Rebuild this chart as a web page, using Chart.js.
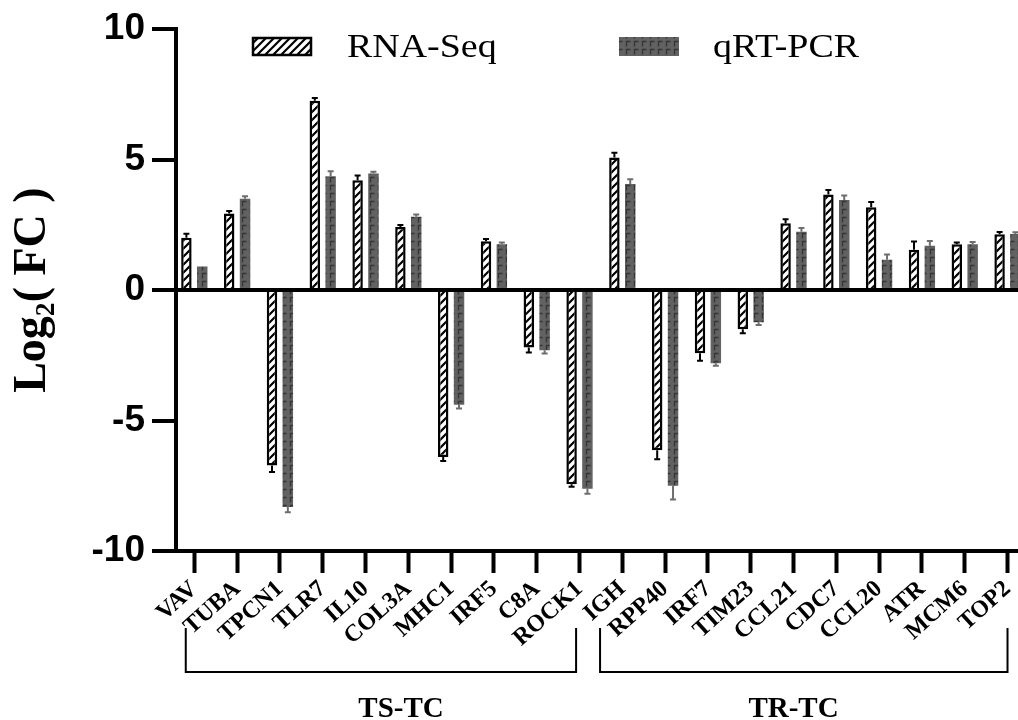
<!DOCTYPE html>
<html lang="en">
<head>
<meta charset="UTF-8">
<title>RNA-Seq vs qRT-PCR</title>
<script src="https://cdn.jsdelivr.net/npm/chart.js"></script>
<style>
  body { margin: 0; background: #fff; overflow: hidden; }
</style>
</head>
<body>
<canvas id="myChart" width="1018" height="720"></canvas>
<script>
// data
const genes = ['VAV', 'TUBA', 'TPCN1', 'TLR7', 'IL10', 'COL3A', 'MHC1', 'IRF5', 'C8A', 'ROCK1',
               'IGH', 'RPP40', 'IRF7', 'TIM23', 'CCL21', 'CDC7', 'CCL20', 'ATR', 'MCM6', 'TOP2'];
const rnaSeq    = [2.01, 2.94, -6.72, 7.26, 4.21, 2.42, -6.40, 1.87, -2.20, -7.44,
                   5.08, -6.14, -2.42, -1.50, 2.56, 3.66, 3.18, 1.55, 1.76, 2.14];
const rnaSeqErr = [0.15, 0.09, 0.25, 0.10, 0.18, 0.08, 0.15, 0.09, 0.19, 0.10,
                   0.18, 0.34, 0.29, 0.15, 0.16, 0.18, 0.20, 0.31, 0.06, 0.09];
const qpcr      = [0.90, 3.50, -8.31, 4.36, 4.47, 2.81, -4.39, 1.76, -2.31, -7.61,
                   4.07, -7.50, -2.80, -1.23, 2.24, 3.45, 1.16, 1.70, 1.76, 2.15];
const qpcrErr   = [0, 0.10, 0.20, 0.20, 0.07, 0.09, 0.15, 0.06, 0.12, 0.20,
                   0.18, 0.53, 0.10, 0.11, 0.14, 0.18, 0.20, 0.18, 0.08, 0.07];
const yTicks = [-10, -5, 0, 5, 10];
const groups = [
    { label: 'TS-TC', first: 0, last: 9 },
    { label: 'TR-TC', first: 10, last: 19 }
];

// bracket ends and label centre, in category units (layout only)
const bracketLayout = [
    { from: -0.2, to: 8.92, labelAt: 4.83 },
    { from: 9.48, to: 19.0, labelAt: 14.0 }
];

// hatched fill for RNA-Seq
function hatchPattern() {
    const c = document.createElement('canvas');
    c.width = 8; c.height = 8;
    const g = c.getContext('2d');
    g.fillStyle = '#fff';
    g.fillRect(0, 0, 8, 8);
    g.strokeStyle = '#000';
    g.lineWidth = 2.2;
    g.beginPath();
    g.moveTo(-2, 10); g.lineTo(10, -2);
    g.moveTo(-2, 2); g.lineTo(2, -2);
    g.moveTo(6, 10); g.lineTo(10, 6);
    g.stroke();
    return g.createPattern(c, 'repeat');
}

// grey fill with small dark corner marks for qRT-PCR
function greyPattern() {
    const c = document.createElement('canvas');
    c.width = 8; c.height = 8;
    const g = c.getContext('2d');
    g.fillStyle = '#626262';
    g.fillRect(0, 0, 8, 8);
    g.strokeStyle = '#353535';
    g.lineWidth = 1.4;
    g.beginPath();
    g.moveTo(2.5, 6.5); g.lineTo(2.5, 1.5); g.lineTo(6.5, 1.5);
    g.stroke();
    return g.createPattern(c, 'repeat');
}

const errorBars = {
    id: 'errorBars',
    afterDatasetsDraw(chart) {
        const ctx = chart.ctx;
        const yScale = chart.scales.y;
        chart.data.datasets.forEach((ds, di) => {
            const meta = chart.getDatasetMeta(di);
            ctx.save();
            ctx.strokeStyle = ds.errorColor;
            ctx.lineWidth = 2;
            meta.data.forEach((bar, i) => {
                const v = ds.data[i].y;
                const e = ds.errors[i];
                if (!e) return;
                const end = yScale.getPixelForValue(v + Math.sign(v) * e);
                ctx.beginPath();
                ctx.moveTo(bar.x, bar.y);
                ctx.lineTo(bar.x, end);
                ctx.moveTo(bar.x - 3, end);
                ctx.lineTo(bar.x + 3, end);
                ctx.stroke();
            });
            ctx.restore();
        });
    }
};

const extras = {
    id: 'extras',
    afterDraw(chart) {
        const ctx = chart.ctx;
        const xScale = chart.scales.x;

        // legend inside the plot
        const items = [{ box: 252, text: 347 }, { box: 619, text: 713 }];
        chart.data.datasets.forEach((ds, i) => {
            const it = items[i];
            ctx.save();
            ctx.fillStyle = ds.backgroundColor;
            ctx.fillRect(it.box, 37, 60, 19);
            if (ds.borderWidth) {
                ctx.lineWidth = 2.5;
                ctx.strokeStyle = '#000';
                ctx.strokeRect(it.box + 1, 38, 58, 17);
            }
            ctx.fillStyle = '#000';
            ctx.font = '33px "Liberation Serif"';
            ctx.textBaseline = 'alphabetic';
            ctx.translate(it.text, 57);
            ctx.scale(1.15, 1);
            ctx.fillText(ds.label, 0, 0);
            ctx.restore();
        });

        // group brackets
        ctx.save();
        ctx.strokeStyle = '#000';
        ctx.lineWidth = 2;
        ctx.fillStyle = '#000';
        ctx.font = 'bold 29px "Liberation Serif"';
        ctx.textAlign = 'center';
        groups.forEach((g, i) => {
            const b = bracketLayout[i];
            const x0 = xScale.getPixelForValue(b.from);
            const x1 = xScale.getPixelForValue(b.to);
            ctx.beginPath();
            ctx.moveTo(x0, 628);
            ctx.lineTo(x0, 672);
            ctx.lineTo(x1, 672);
            ctx.lineTo(x1, 628);
            ctx.stroke();
            ctx.fillText(g.label, xScale.getPixelForValue(b.labelAt), 717);
        });
        ctx.restore();
    }
};

const ctx = document.getElementById('myChart').getContext('2d');
const myChart = new Chart(ctx, {
    type: 'bar',
    data: {
        datasets: [{
            label: 'RNA-Seq',
            data: genes.map((g, i) => ({ x: i, y: rnaSeq[i] })),
            backgroundColor: hatchPattern(),
            borderColor: '#000',
            borderWidth: 2.5,
            errors: rnaSeqErr,
            errorColor: '#000'
        }, {
            label: 'qRT-PCR',
            data: genes.map((g, i) => ({ x: i, y: qpcr[i] })),
            backgroundColor: greyPattern(),
            borderWidth: 0,
            errors: qpcrErr,
            errorColor: '#6e6e6e'
        }]
    },
    options: {
        responsive: false,
        animation: false,
        datasets: { bar: { categoryPercentage: 0.74, barPercentage: 0.66 } },
        layout: { padding: { top: 25, left: 0, right: 0, bottom: 0 } },
        plugins: { legend: { display: false }, tooltip: { enabled: false } },
        scales: {
            x: {
                type: 'linear',
                offset: false,
                min: -0.428,
                max: 19.245,
                afterBuildTicks: s => { s.ticks = genes.map((g, i) => ({ value: i })); },
                afterFit: s => { s.height = 169; s.paddingLeft = 0; s.paddingRight = 0; },
                ticks: {
                    autoSkip: false,
                    minRotation: 42,
                    maxRotation: 42,
                    padding: 2,
                    color: '#000',
                    font: { family: '"Liberation Serif"', weight: 'bold', size: 24 },
                    callback: v => genes[v]
                },
                grid: { offset: false, drawOnChartArea: false, tickLength: 22, tickWidth: 4, tickColor: '#000' },
                border: { color: '#000', width: 4 }
            },
            y: {
                min: -10,
                max: 10,
                afterBuildTicks: s => { s.ticks = yTicks.map(v => ({ value: v })); },
                afterFit: s => { s.width = 176; },
                ticks: {
                    padding: 7,
                    color: '#000',
                    font: { family: '"Liberation Sans"', weight: 'bold', size: 37 }
                },
                grid: {
                    color: c => (c.tick && c.tick.value === 0) ? '#000' : 'rgba(0,0,0,0)',
                    lineWidth: 4,
                    tickColor: '#000',
                    tickWidth: 4,
                    tickLength: 24
                },
                border: { color: '#000', width: 4 },
                title: {
                    display: true,
                    text: 'Log₂( FC )',
                    color: '#000',
                    font: { family: '"Liberation Serif"', weight: 'bold', size: 46 },
                    padding: { top: 6, bottom: 0 }
                }
            }
        }
    },
    plugins: [errorBars, extras]
});
</script>
</body>
</html>
